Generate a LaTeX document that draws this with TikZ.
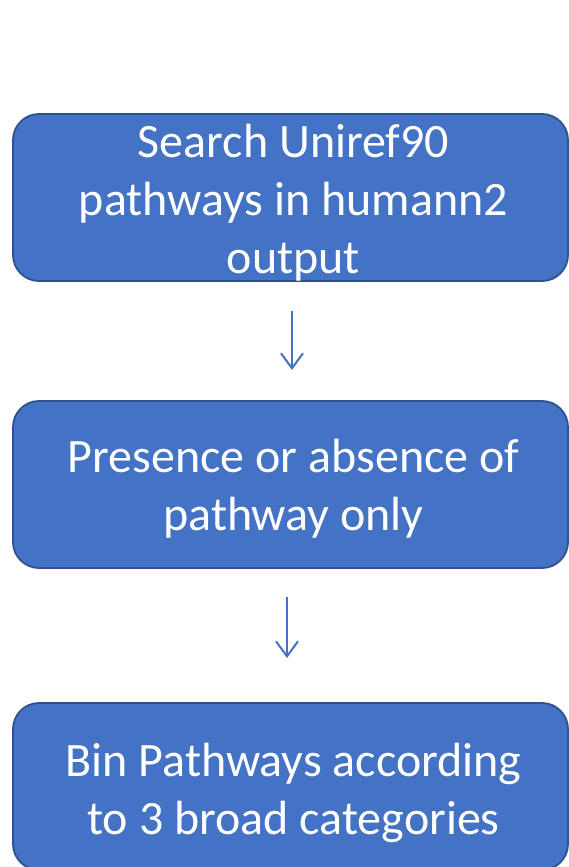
\documentclass[tikz,border=0pt]{standalone}
\usepackage{fontspec}
\setmainfont{Carlito}
\usetikzlibrary{arrows.meta}
\definecolor{boxfill}{HTML}{4472C4}
\definecolor{boxline}{HTML}{2F528F}
\begin{document}
\begin{tikzpicture}[x=1pt,y=-1pt,
  stepbox/.style={draw=boxline, line width=1.8pt, fill=boxfill, rounded corners=26pt,
    minimum width=555pt, minimum height=167pt, inner sep=0pt},
  steptext/.style={text=white, inner sep=0pt, align=center,
    font=\fontsize{48}{58}\selectfont},
  flowarrow/.style={draw=boxfill, line width=2pt,
    -{Straight Barb[length=15pt,width=22pt,line width=2pt]}}]
\clip (0,0) rectangle (569,867);
\fill[white] (0,0) rectangle (569,867);
\node[stepbox] (b1) at (290.5,197.5) {};
\node[stepbox] (b2) at (290.5,484.5) {};
\node[stepbox] (b3) at (290.5,786.5) {};
\node[steptext] (t1) at ([xshift=3pt,yshift=-5pt]b1.center) {Search Uniref90\\pathways in humann2\\output};
\node[steptext] (t2) at ([xshift=3pt,yshift=-4pt]b2.center) {Presence or absence of\\pathway only};
\node[steptext] (t3) at ([xshift=3pt,yshift=-6pt]b3.center) {Bin Pathways according\\to 3 broad categories};
\coordinate (a1s) at (292,311);
\coordinate (a1e) at (292,370);
\coordinate (a2s) at (287,597);
\coordinate (a2e) at (287,658);
\draw[flowarrow] (a1s) -- (a1e);
\draw[flowarrow] (a2s) -- (a2e);
\end{tikzpicture}
\end{document}
